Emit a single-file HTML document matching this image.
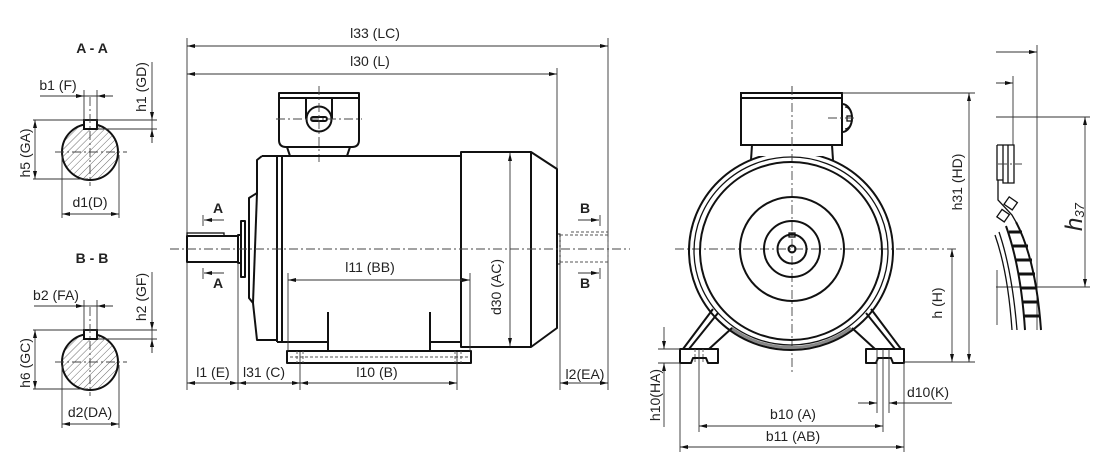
<!DOCTYPE html>
<html><head><meta charset="utf-8"><style>
html,body{margin:0;padding:0;background:#fff;}
svg{display:block;}
text{font-family:"Liberation Sans",Arial,sans-serif;font-size:14px;fill:#222;}
.b{font-weight:bold;}
.k{stroke:#111;stroke-width:2;fill:none;stroke-linejoin:round;}
.m{stroke:#111;stroke-width:1.3;fill:none;}
.d{stroke:#333;stroke-width:0.9;fill:none;}
.c{stroke:#444;stroke-width:0.9;stroke-dasharray:9 3 2 3;fill:none;}
.h{stroke:#555;stroke-width:0.9;stroke-dasharray:3 2;fill:none;}
</style></head><body>
<svg width="1100" height="460" viewBox="0 0 1100 460" xmlns="http://www.w3.org/2000/svg">
<defs>
<marker id="a" viewBox="0 0 8 4" refX="8" refY="2" markerWidth="8" markerHeight="4" markerUnits="userSpaceOnUse" orient="auto-start-reverse"><path d="M0,0 L8,2 L0,4z" fill="#111"/></marker>
<pattern id="ht" patternUnits="userSpaceOnUse" width="5" height="5" patternTransform="rotate(45)"><line x1="0" y1="0" x2="0" y2="5" stroke="#444" stroke-width="0.8"/></pattern>
</defs>

<!-- ===== Section A-A ===== -->
<g>
<text x="92" y="53" text-anchor="middle" class="b">A - A</text>
<circle cx="90" cy="152" r="28" fill="url(#ht)" stroke="#111" stroke-width="2"/>
<rect x="84" y="120" width="13" height="9" fill="#fff" stroke="#111" stroke-width="2"/>
<line class="c" x1="90" y1="97" x2="90" y2="186"/>
<line class="c" x1="55" y1="152" x2="127" y2="152"/>
<line class="d" x1="84" y1="90" x2="84" y2="120"/>
<line class="d" x1="97" y1="90" x2="97" y2="120"/>
<line class="d" x1="40" y1="96" x2="113" y2="96"/>
<line class="d" x1="60" y1="96" x2="84" y2="96" marker-end="url(#a)"/>
<line class="d" x1="113" y1="96" x2="97" y2="96" marker-end="url(#a)"/>
<text x="58" y="90" text-anchor="middle">b1 (F)</text>
<line class="d" x1="33" y1="120" x2="157" y2="120"/>
<line class="d" x1="97" y1="129" x2="157" y2="129"/>
<line class="d" x1="152" y1="62" x2="152" y2="143"/>
<line class="d" x1="152" y1="100" x2="152" y2="120" marker-end="url(#a)"/>
<line class="d" x1="152" y1="143" x2="152" y2="129" marker-end="url(#a)"/>
<text transform="translate(146,87) rotate(-90)" text-anchor="middle">h1 (GD)</text>
<line class="d" x1="35" y1="120" x2="35" y2="179" marker-start="url(#a)" marker-end="url(#a)"/>
<line class="d" x1="33" y1="179" x2="88" y2="179"/>
<text transform="translate(30,153) rotate(-90)" text-anchor="middle">h5 (GA)</text>
<line class="d" x1="62" y1="155" x2="62" y2="218"/>
<line class="d" x1="119" y1="155" x2="119" y2="218"/>
<line class="d" x1="62" y1="214" x2="119" y2="214" marker-start="url(#a)" marker-end="url(#a)"/>
<text x="90" y="207" text-anchor="middle">d1(D)</text>
</g>

<!-- ===== Section B-B ===== -->
<g transform="translate(0,210)">
<text x="92" y="53" text-anchor="middle" class="b">B - B</text>
<circle cx="90" cy="152" r="28" fill="url(#ht)" stroke="#111" stroke-width="2"/>
<rect x="84" y="120" width="13" height="9" fill="#fff" stroke="#111" stroke-width="2"/>
<line class="c" x1="90" y1="97" x2="90" y2="186"/>
<line class="c" x1="55" y1="152" x2="127" y2="152"/>
<line class="d" x1="84" y1="90" x2="84" y2="120"/>
<line class="d" x1="97" y1="90" x2="97" y2="120"/>
<line class="d" x1="34" y1="96" x2="113" y2="96"/>
<line class="d" x1="60" y1="96" x2="84" y2="96" marker-end="url(#a)"/>
<line class="d" x1="113" y1="96" x2="97" y2="96" marker-end="url(#a)"/>
<text x="56" y="90" text-anchor="middle">b2 (FA)</text>
<line class="d" x1="33" y1="120" x2="157" y2="120"/>
<line class="d" x1="97" y1="129" x2="157" y2="129"/>
<line class="d" x1="152" y1="62" x2="152" y2="143"/>
<line class="d" x1="152" y1="100" x2="152" y2="120" marker-end="url(#a)"/>
<line class="d" x1="152" y1="143" x2="152" y2="129" marker-end="url(#a)"/>
<text transform="translate(146,87) rotate(-90)" text-anchor="middle">h2 (GF)</text>
<line class="d" x1="35" y1="120" x2="35" y2="179" marker-start="url(#a)" marker-end="url(#a)"/>
<line class="d" x1="33" y1="179" x2="88" y2="179"/>
<text transform="translate(30,153) rotate(-90)" text-anchor="middle">h6 (GC)</text>
<line class="d" x1="62" y1="155" x2="62" y2="218"/>
<line class="d" x1="119" y1="155" x2="119" y2="218"/>
<line class="d" x1="62" y1="214" x2="119" y2="214" marker-start="url(#a)" marker-end="url(#a)"/>
<text x="90" y="207" text-anchor="middle">d2(DA)</text>
</g>

<!-- ===== Side view ===== -->
<line class="d" x1="187" y1="38" x2="187" y2="390"/>
<line class="d" x1="608" y1="38" x2="608" y2="390"/>
<line class="d" x1="557" y1="68" x2="557" y2="169"/>
<line class="d" x1="187" y1="46" x2="608" y2="46" marker-start="url(#a)" marker-end="url(#a)"/>
<text x="375" y="38" text-anchor="middle">l33 (LC)</text>
<line class="d" x1="187" y1="74" x2="557" y2="74" marker-start="url(#a)" marker-end="url(#a)"/>
<text x="370" y="66" text-anchor="middle">l30 (L)</text>

<!-- terminal box -->
<path class="k" d="M279,93 H359 V140 Q359,147 352,147 H286 Q279,147 279,140 Z"/>
<line class="k" x1="279" y1="98" x2="359" y2="98"/>
<path class="k" d="M287,147 L290,156 M350,147 L347,156"/>
<line class="k" x1="306" y1="98" x2="306" y2="119"/>
<line class="k" x1="332" y1="98" x2="332" y2="119"/>
<circle cx="319" cy="119" r="12.5" fill="#fff" stroke="#111" stroke-width="2"/>
<rect class="k" x="311" y="117" width="16" height="4" rx="2"/>
<line class="c" x1="319" y1="86" x2="319" y2="162"/>
<line class="c" x1="276" y1="119" x2="362" y2="119"/>

<!-- body -->
<path class="k" d="M262,156 H461"/>
<path class="k" d="M262,156 L257,160 L257,193 L249,198 L249,298 L253,303 L257,340 H277"/>
<line class="k" x1="257" y1="193" x2="253" y2="303"/>
<line class="k" x1="277" y1="156" x2="277" y2="342"/>
<line class="k" x1="282" y1="156" x2="282" y2="342"/>
<path class="k" d="M277,342 H328 M328,312 V351 M430,312 V351 M430,342 H461"/>
<rect class="k" x="241" y="221" width="4" height="56"/>
<rect class="k" x="238" y="235" width="3" height="28"/>
<!-- shaft A -->
<rect class="k" x="187" y="236" width="51" height="26"/>
<rect class="m" x="187" y="233" width="37" height="3"/>
<!-- foot plate -->
<rect class="k" x="287" y="351" width="184" height="12"/>
<line class="h" x1="290" y1="357" x2="468" y2="357"/>
<path class="h" d="M297,351 V363 M303,351 V363 M455,351 V363 M461,351 V363"/>
<!-- fan cover -->
<path class="k" d="M461,152 H531 L557,169 V328 L531,347 H461 Z"/>
<line class="k" x1="531" y1="152" x2="531" y2="347"/>
<!-- shaft B hidden -->
<rect x="557" y="234" width="3" height="30" fill="none" stroke="#111" stroke-width="1"/>
<rect class="h" x="560" y="235" width="48" height="27"/>
<line class="h" x1="571" y1="232" x2="608" y2="232"/>
<!-- centerline -->
<line class="c" x1="170" y1="249" x2="630" y2="249"/>

<!-- d30 -->
<line class="d" x1="510" y1="153" x2="510" y2="346" marker-start="url(#a)" marker-end="url(#a)"/>
<text transform="translate(501,287) rotate(-90)" text-anchor="middle">d30 (AC)</text>
<!-- l11 -->
<line class="d" x1="288" y1="273" x2="288" y2="351"/>
<line class="d" x1="470" y1="273" x2="470" y2="351"/>
<line class="d" x1="288" y1="280" x2="470" y2="280" marker-start="url(#a)" marker-end="url(#a)"/>
<text x="370" y="272" text-anchor="middle">l11 (BB)</text>

<!-- section markers -->
<text x="218" y="213" text-anchor="middle" class="b">A</text>
<line class="d" x1="224" y1="220" x2="204" y2="220" marker-end="url(#a)"/>
<line class="d" x1="203" y1="215" x2="203" y2="226"/>
<text x="218" y="288" text-anchor="middle" class="b">A</text>
<line class="d" x1="224" y1="273" x2="204" y2="273" marker-end="url(#a)"/>
<line class="d" x1="203" y1="268" x2="203" y2="279"/>
<text x="585" y="213" text-anchor="middle" class="b">B</text>
<line class="d" x1="578" y1="220" x2="599" y2="220" marker-end="url(#a)"/>
<line class="d" x1="600" y1="215" x2="600" y2="226"/>
<text x="585" y="288" text-anchor="middle" class="b">B</text>
<line class="d" x1="578" y1="273" x2="599" y2="273" marker-end="url(#a)"/>
<line class="d" x1="600" y1="268" x2="600" y2="279"/>

<!-- bottom dims -->
<line class="d" x1="238" y1="263" x2="238" y2="390"/>
<line class="d" x1="300" y1="352" x2="300" y2="390"/>
<line class="d" x1="457" y1="352" x2="457" y2="390"/>
<line class="d" x1="560" y1="262" x2="560" y2="390"/>
<line class="d" x1="187" y1="383" x2="238" y2="383" marker-start="url(#a)" marker-end="url(#a)"/>
<line class="d" x1="238" y1="383" x2="300" y2="383" marker-start="url(#a)" marker-end="url(#a)"/>
<line class="d" x1="300" y1="383" x2="457" y2="383" marker-start="url(#a)" marker-end="url(#a)"/>
<line class="d" x1="560" y1="383" x2="608" y2="383" marker-start="url(#a)" marker-end="url(#a)"/>
<text x="213" y="377" text-anchor="middle">l1 (E)</text>
<text x="264" y="377" text-anchor="middle">l31 (C)</text>
<text x="377" y="377" text-anchor="middle">l10 (B)</text>
<text x="585" y="379" text-anchor="middle">l2(EA)</text>

<!-- ===== Front view ===== -->
<line class="c" x1="792" y1="86" x2="792" y2="372"/>
<line class="c" x1="675" y1="249" x2="957" y2="249"/>
<path d="M731,328 A99.5,96.5 0 0 0 851,328" fill="none" stroke="#888" stroke-width="3"/>
<ellipse cx="791" cy="251" rx="102" ry="99" class="k"/>
<ellipse cx="791" cy="251" rx="97" ry="94" class="m"/>
<ellipse cx="791" cy="251" rx="91" ry="89" class="k"/>
<polygon points="752,145 832,145 833,156 751,156" fill="#fff"/>
<line class="k" x1="752" y1="145" x2="751" y2="160"/>
<line class="k" x1="832" y1="145" x2="833" y2="160"/>
<rect x="741" y="93" width="101" height="52" fill="#fff" stroke="#111" stroke-width="2"/>
<line class="k" x1="741" y1="98" x2="842" y2="98"/>
<line class="c" x1="792" y1="86" x2="792" y2="160"/>
<path class="k" d="M842,104 A10,14 0 0 1 842,132"/>
<path class="m" d="M845,107 A7,11 0 0 1 845,129"/>
<rect class="m" x="847" y="116" width="5" height="5"/>
<line class="c" x1="828" y1="118" x2="856" y2="118"/>
<circle cx="792" cy="249" r="52" class="k"/>
<circle cx="792" cy="249" r="28" class="k"/>
<circle cx="792" cy="249" r="14.5" class="k"/>
<circle cx="792" cy="249" r="3.5" class="k"/>
<rect class="m" x="789" y="233" width="6" height="4"/>
<!-- legs -->
<g class="k">
<line x1="683" y1="349" x2="713" y2="309"/>
<line x1="689" y1="349" x2="718" y2="313"/>
<line x1="709" y1="349" x2="732" y2="328"/>
<line x1="901" y1="349" x2="871" y2="309"/>
<line x1="895" y1="349" x2="866" y2="313"/>
<line x1="875" y1="349" x2="852" y2="328"/>
</g>
<path class="k" d="M680,349 H718 V363 H708 L706,358 H693 L691,363 H680 Z" style="fill:#fff"/>
<path class="k" d="M904,349 H866 V363 H876 L878,358 H891 L893,363 H904 Z" style="fill:#fff"/>
<path class="h" d="M695,349 V363 M703,349 V363"/>
<path class="d" d="M877,349 V413 M883,349 V432 M889,349 V413"/>
<!-- front dims -->
<line class="d" x1="842" y1="93" x2="975" y2="93"/>
<line class="d" x1="904" y1="362" x2="975" y2="362"/>
<line class="d" x1="969" y1="93" x2="969" y2="362" marker-start="url(#a)" marker-end="url(#a)"/>
<text transform="translate(962,182) rotate(-90)" text-anchor="middle">h31 (HD)</text>
<line class="d" x1="952" y1="249" x2="952" y2="362" marker-start="url(#a)" marker-end="url(#a)"/>
<text transform="translate(942,303) rotate(-90)" text-anchor="middle">h (H)</text>
<line class="d" x1="658" y1="349" x2="680" y2="349"/>
<line class="d" x1="658" y1="363" x2="680" y2="363"/>
<line class="d" x1="664" y1="327" x2="664" y2="349" marker-end="url(#a)"/>
<line class="d" x1="664" y1="427" x2="664" y2="363" marker-end="url(#a)"/>
<text transform="translate(660,395) rotate(-90)" text-anchor="middle">h10(HA)</text>
<line class="d" x1="699" y1="349" x2="699" y2="432"/>
<line class="d" x1="680" y1="363" x2="680" y2="452"/>
<line class="d" x1="904" y1="363" x2="904" y2="452"/>
<line class="d" x1="699" y1="426" x2="883" y2="426" marker-start="url(#a)" marker-end="url(#a)"/>
<text x="793" y="419" text-anchor="middle">b10 (A)</text>
<line class="d" x1="680" y1="447" x2="904" y2="447" marker-start="url(#a)" marker-end="url(#a)"/>
<text x="793" y="441" text-anchor="middle">b11 (AB)</text>
<line class="d" x1="858" y1="403" x2="877" y2="403" marker-end="url(#a)"/>
<line class="d" x1="952" y1="403" x2="889" y2="403" marker-end="url(#a)"/>
<text x="928" y="397" text-anchor="middle">d10(K)</text>

<!-- ===== Right detail ===== -->
<line class="d" x1="996" y1="52" x2="1037" y2="52" marker-end="url(#a)"/>
<line class="d" x1="1037" y1="45" x2="1037" y2="330"/>
<line class="d" x1="996" y1="83" x2="1013" y2="83" marker-end="url(#a)"/>
<line class="d" x1="1013" y1="76" x2="1013" y2="145"/>
<line class="d" x1="996" y1="117" x2="1090" y2="117"/>
<line class="d" x1="996" y1="287" x2="1090" y2="287"/>
<line class="d" x1="1085" y1="117" x2="1085" y2="287" marker-start="url(#a)" marker-end="url(#a)"/>
<text transform="translate(1082,231) rotate(-90)" font-style="italic" style="font-size:24px">h<tspan style="font-size:13px" dy="2">37</tspan></text>
<path class="m" d="M997,145 H1014 V183 H1003 V145 M1008,145 V183 M997,145 V180 H1003"/>
<line class="c" x1="998" y1="164" x2="1022" y2="164"/>
<path class="m" d="M998,180 V200 L1012,215 L1016,222"/>
<rect class="m" x="1006" y="199" width="10" height="9" transform="rotate(35 1011 203)"/>
<rect class="m" x="999" y="211" width="9" height="9" transform="rotate(35 1003 215)"/>
<path class="k" d="M1016,222 Q1036,260 1041,330"/>
<path class="k" d="M1006,226 Q1021,268 1025,330"/>
<g stroke="#111" stroke-width="3">
<line x1="1009" y1="232" x2="1022" y2="232"/>
<line x1="1013" y1="246" x2="1028" y2="246"/>
<line x1="1016" y1="260" x2="1032" y2="260"/>
<line x1="1019" y1="274" x2="1035" y2="274"/>
<line x1="1021" y1="288" x2="1037" y2="288"/>
<line x1="1023" y1="302" x2="1039" y2="302"/>
<line x1="1024" y1="316" x2="1040" y2="316"/>
</g>
<path class="m" d="M995,235 Q1008,272 1012,330 M999,232 Q1012,270 1017,330"/>
<line class="d" x1="997" y1="270" x2="997" y2="325"/>
</svg>
</body></html>
